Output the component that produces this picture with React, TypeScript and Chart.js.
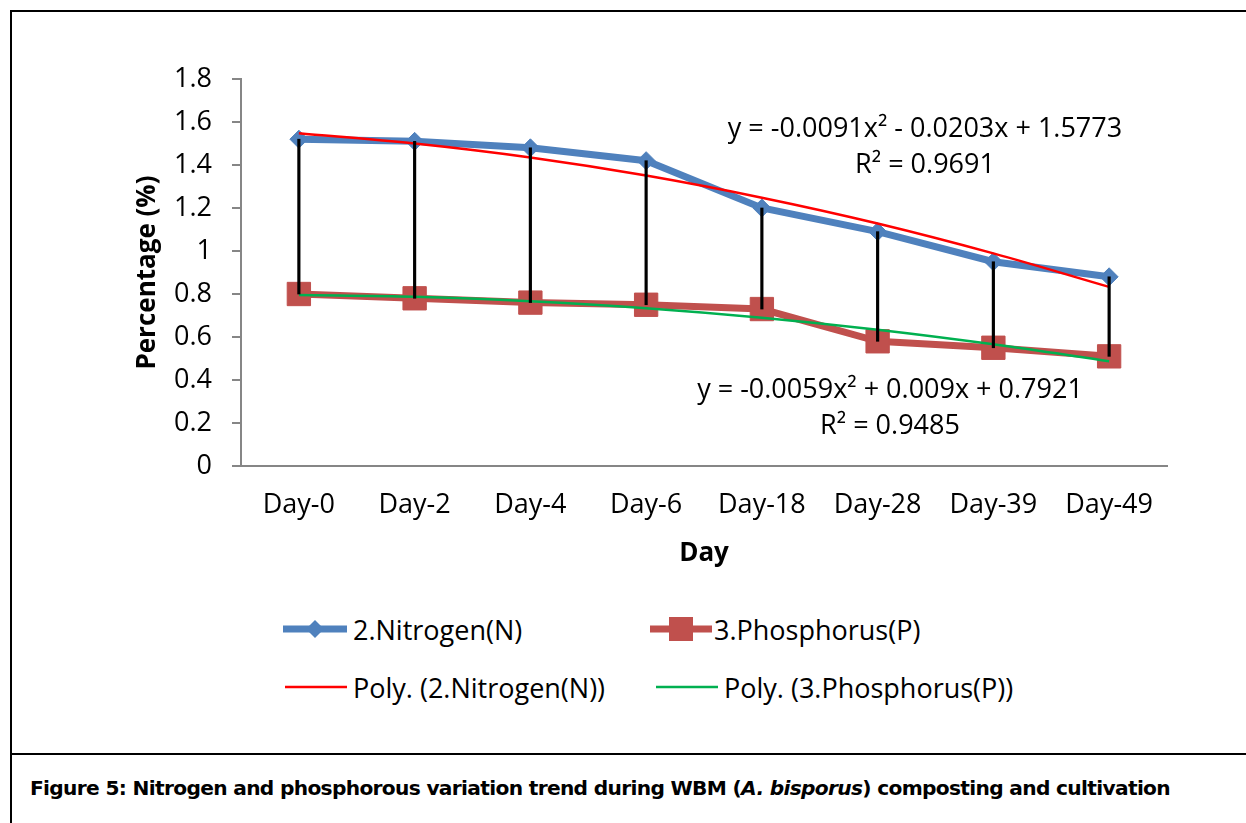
import React, { useEffect, useLayoutEffect, useRef } from 'react';
import { Chart, registerables } from 'chart.js';

Chart.register(...registerables);

// ---- data ----
const categories = ['Day-0', 'Day-2', 'Day-4', 'Day-6', 'Day-18', 'Day-28', 'Day-39', 'Day-49'];
const nitrogen = [1.52, 1.51, 1.48, 1.42, 1.2, 1.09, 0.95, 0.88];
const phosphorus = [0.8, 0.78, 0.76, 0.75, 0.73, 0.58, 0.55, 0.51];
const nitrogenTrend = [1.548, 1.5, 1.435, 1.351, 1.248, 1.128, 0.989, 0.833];
const phosphorusTrend = [0.795, 0.787, 0.766, 0.734, 0.69, 0.634, 0.566, 0.487];
const yTickValues = [0, 0.2, 0.4, 0.6, 0.8, 1, 1.2, 1.4, 1.6, 1.8];
const yTickLabels = ['0', '0.2', '0.4', '0.6', '0.8', '1', '1.2', '1.4', '1.6', '1.8'];
const seriesLabels = ['2.Nitrogen(N)', '3.Phosphorus(P)', 'Poly. (2.Nitrogen(N))', 'Poly. (3.Phosphorus(P))'];
const equationN = ['y = -0.0091x² - 0.0203x + 1.5773', 'R² = 0.9691'];
const equationP = ['y = -0.0059x² + 0.009x + 0.7921', 'R² = 0.9485'];
const yAxisTitle = 'Percentage (%)';
const xAxisTitle = 'Day';

const BLUE = '#4F81BD';
const RED = '#C0504D';
const TREND_RED = '#FF0000';
const TREND_GREEN = '#00B050';
const AXIS_GRAY = '#868686';
const FONT = '"Open Sans", "DejaVu Sans", sans-serif';

const equationPlugin = {
  id: 'equationText',
  afterDatasetsDraw(chart: any) {
    const ctx = chart.ctx;
    ctx.save();
    ctx.font = `27px ${FONT}`;
    ctx.fillStyle = '#000';
    ctx.textAlign = 'center';
    ctx.textBaseline = 'alphabetic';
    ctx.fillText(equationN[0], 925, 137);
    ctx.fillText(equationN[1], 925, 173);
    ctx.fillText(equationP[0], 890, 398);
    ctx.fillText(equationP[1], 890, 434);
    ctx.restore();
  },
};

function LegendSymbol({ kind, width }: { kind: string; width: number }) {
  const cx = width / 2;
  if (kind === 'diamond') {
    return (
      <svg width={width} height={30} style={{ display: 'block' }}>
        <line x1={0} y1={15} x2={width} y2={15} stroke={BLUE} strokeWidth={7} />
        <polygon points={`${cx},6 ${cx + 9},15 ${cx},24 ${cx - 9},15`} fill={BLUE} />
      </svg>
    );
  }
  if (kind === 'square') {
    return (
      <svg width={width} height={30} style={{ display: 'block' }}>
        <line x1={0} y1={15} x2={width} y2={15} stroke={RED} strokeWidth={7} />
        <rect x={cx - 12} y={3} width={24} height={24} fill={RED} />
      </svg>
    );
  }
  return (
    <svg width={width} height={30} style={{ display: 'block' }}>
      <line x1={0} y1={15} x2={width} y2={15} stroke={kind} strokeWidth={2.5} />
    </svg>
  );
}

function LegendItem({ left, top, symLeft, symWidth, kind, label }: any) {
  return (
    <>
      <div style={{ position: 'absolute', left: symLeft, top: top - 15, height: 30 }}>
        <LegendSymbol kind={kind} width={symWidth} />
      </div>
      <div
        style={{
          position: 'absolute',
          left,
          top: top - 20,
          height: 40,
          display: 'flex',
          alignItems: 'center',
          font: `27px ${FONT}`,
          lineHeight: '27px',
          color: '#000',
          whiteSpace: 'nowrap',
        }}
      >
        {label}
      </div>
    </>
  );
}

export default function App() {
  const canvasRef = useRef<HTMLCanvasElement>(null);
  const captionRef = useRef<HTMLSpanElement>(null);

  useLayoutEffect(() => {
    const el = captionRef.current;
    if (!el) return;
    const w = el.getBoundingClientRect().width;
    if (w > 0) el.style.transform = `scaleX(${1140 / w})`;
  }, []);

  useEffect(() => {
    const chart = new Chart(canvasRef.current as HTMLCanvasElement, {
      type: 'line',
      data: {
        labels: categories,
        datasets: [
          {
            type: 'bar',
            label: 'High-Low',
            data: categories.map((_, i) => [phosphorus[i], nitrogen[i]]) as any,
            backgroundColor: '#000',
            borderWidth: 0,
            barThickness: 2.5,
            order: 0,
          } as any,
          {
            type: 'line',
            label: seriesLabels[2],
            data: nitrogenTrend,
            borderColor: TREND_RED,
            borderWidth: 2.5,
            pointRadius: 0,
            cubicInterpolationMode: 'monotone',
            order: 1,
          },
          {
            type: 'line',
            label: seriesLabels[3],
            data: phosphorusTrend,
            borderColor: TREND_GREEN,
            borderWidth: 2.5,
            pointRadius: 0,
            cubicInterpolationMode: 'monotone',
            order: 1,
          },
          {
            type: 'line',
            label: seriesLabels[0],
            data: nitrogen,
            borderColor: BLUE,
            borderWidth: 7,
            pointStyle: 'rectRot',
            pointRadius: 9,
            pointBackgroundColor: BLUE,
            pointBorderColor: BLUE,
            pointBorderWidth: 1,
            order: 2,
          },
          {
            type: 'line',
            label: seriesLabels[1],
            data: phosphorus,
            borderColor: RED,
            borderWidth: 7,
            pointStyle: 'rect',
            pointRadius: 16.5,
            pointBackgroundColor: RED,
            pointBorderColor: RED,
            pointBorderWidth: 1,
            order: 2,
          },
        ],
      },
      options: {
        responsive: false,
        animation: false,
        devicePixelRatio: 1,
        layout: { padding: { left: 128, right: 79, top: 79, bottom: 24 } },
        plugins: {
          legend: { display: false },
          tooltip: { enabled: false },
        },
        scales: {
          x: {
            offset: true,
            grid: { drawOnChartArea: false, drawTicks: false },
            border: { display: true, color: AXIS_GRAY, width: 2 },
            ticks: { color: '#000', font: { family: FONT, size: 27 }, padding: 23, maxRotation: 0, autoSkip: false },
            title: {
              display: true,
              text: xAxisTitle,
              color: '#000',
              font: { family: FONT, size: 26, weight: 'bold' },
              padding: { top: 0, bottom: 7 },
            },
            afterFit: (scale: any) => {
              scale.height = 110;
            },
          },
          y: {
            min: 0,
            max: 1.8,
            grid: { drawOnChartArea: false, drawTicks: true, tickLength: 9, color: AXIS_GRAY, lineWidth: 2 },
            border: { display: true, color: AXIS_GRAY, width: 2 },
            ticks: {
              stepSize: 0.2,
              color: '#000',
              font: { family: FONT, size: 27 },
              padding: 20,
              callback: (value: any) => {
                const i = yTickValues.findIndex((v) => Math.abs(v - Number(value)) < 1e-6);
                return i >= 0 ? yTickLabels[i] : '';
              },
            },
            title: {
              display: true,
              text: yAxisTitle,
              color: '#000',
              font: { family: FONT, size: 26, weight: 'bold' },
              padding: { top: 4, bottom: 4 },
            },
            afterFit: (scale: any) => {
              scale.width = 113;
            },
          },
        },
      },
      plugins: [equationPlugin],
    });
    return () => chart.destroy();
  }, []);

  return (
    <div
      style={{
        position: 'absolute',
        left: 0,
        top: 0,
        width: 1246,
        height: 823,
        overflow: 'hidden',
        background: '#fff',
      }}
    >
      <div
        style={{
          position: 'absolute',
          left: 10,
          top: 10,
          width: 1400,
          height: 1000,
          border: '2px solid #000',
          boxSizing: 'border-box',
        }}
      />
      <div style={{ position: 'absolute', left: 10, top: 753, width: 1400, height: 2, background: '#000' }} />
      <canvas
        ref={canvasRef}
        width={1246}
        height={600}
        style={{ position: 'absolute', left: 0, top: 0, width: 1246, height: 600 }}
      />
      <LegendItem symLeft={283} symWidth={64} top={629} left={353} kind="diamond" label={seriesLabels[0]} />
      <LegendItem symLeft={650} symWidth={62} top={629} left={714} kind="square" label={seriesLabels[1]} />
      <LegendItem symLeft={285} symWidth={62} top={687} left={353} kind={TREND_RED} label={seriesLabels[2]} />
      <LegendItem symLeft={656} symWidth={62} top={687} left={724} kind={TREND_GREEN} label={seriesLabels[3]} />
      <div
        style={{
          position: 'absolute',
          left: 30,
          top: 778,
          whiteSpace: 'nowrap',
          font: 'bold 20px "DejaVu Sans Condensed", "Liberation Sans", Arial, sans-serif',
          fontStretch: 'condensed',
          letterSpacing: '-0.6px',
          lineHeight: '21px',
          color: '#000',
        }}
      >
        <span ref={captionRef} style={{ display: 'inline-block', transformOrigin: 'left center' }}>
          Figure 5: Nitrogen and phosphorous variation trend during WBM (<i>A. bisporus</i>) composting and cultivation
        </span>
      </div>
    </div>
  );
}
